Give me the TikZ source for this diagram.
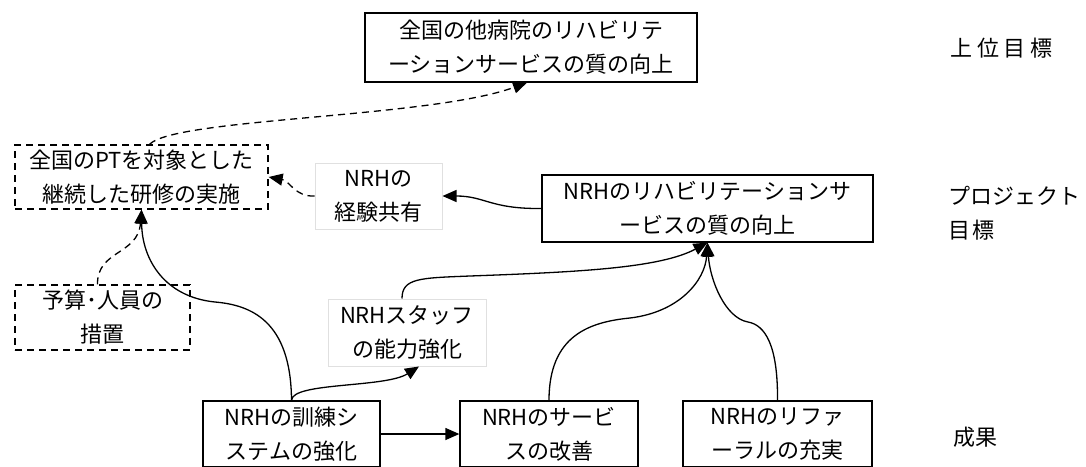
\documentclass[tikz,border=0pt]{standalone}
\usepackage{fontspec}
\setmainfont{Noto Sans CJK JP}
\usetikzlibrary{arrows.meta}
\begin{document}
\begin{tikzpicture}[x=1pt,y=-1pt,
  box/.style={draw, line width=1.3pt, align=center, inner sep=0pt, font=\fontsize{22}{34}\selectfont},
  dbox/.style={box, dash pattern=on 7pt off 5pt},
  gbox/.style={box, draw=black!12, line width=1pt},
  lbl/.style={anchor=west, align=left, inner sep=0pt, font=\fontsize{22}{34}\selectfont},
  arr/.style={line width=1.3pt, -{Triangle[length=14pt,width=12pt]}},
  darr/.style={arr, dash pattern=on 7pt off 5pt}]
\useasboundingbox (0,0) rectangle (1086,466);
\node[box, minimum width=332pt, minimum height=69pt] (goal) at (531,47.5) {全国の他病院のリハビリテ\\ーションサービスの質の向上};
\node[dbox, minimum width=253pt, minimum height=64pt] (pt) at (141.5,177) {全国のPTを対象とした\\継続した研修の実施};
\node[gbox, minimum width=127pt, minimum height=66pt] (exp) at (378.5,196) {NRHの\\経験共有};
\node[box, minimum width=331pt, minimum height=67pt] (proj) at (707.5,208.5) {NRHのリハビリテーションサ\\ービスの質の向上};
\node[dbox, minimum width=175pt, minimum height=65pt] (budget) at (102.5,317.5) {予算･人員の\\措置};
\node[gbox, minimum width=158pt, minimum height=67pt] (staff) at (407,332.5) {NRHスタッフ\\の能力強化};
\node[box, minimum width=177pt, minimum height=66pt] (train) at (291.5,434) {NRHの訓練シ\\ステムの強化};
\node[box, minimum width=178pt, minimum height=66pt] (serv) at (549,434) {NRHのサービ\\スの改善};
\node[box, minimum width=189pt, minimum height=66pt] (ref) at (777.5,434) {NRHのリファ\\ーラルの充実};
\node[lbl] (l1) at (950,48) {\addfontfeature{LetterSpace=22}上位目標};
\node[lbl] (l2) at (948,213.5) {プロジェクト\\\addfontfeature{LetterSpace=10}目標};
\node[lbl] (l3) at (953,437) {成果};
\draw[darr] ([xshift=8pt]pt.north) .. controls (175,118) and (430,118) .. ([xshift=-4pt]goal.south);
\draw[darr] (exp.west) .. controls (295,197) and (290,181) .. (pt.east);
\draw[arr] (proj.west) .. controls (490,209) and (485,196) .. (exp.east);
\draw[darr] ([xshift=-5pt]budget.north) .. controls (97,250) and (138,255) .. (pt.south);
\draw[arr] (train.north) .. controls (291,320) and (250,305) .. (215,302) .. controls (165,297) and (142,260) .. (pt.south);
\draw[arr] (train.north) .. controls (292,382) and (385,388) .. ([xshift=12pt]staff.south);
\draw[arr] ([xshift=-5pt]staff.north) .. controls (402,278) and (420,278) .. (470,276) .. controls (580,272) and (660,268) .. (proj.south);
\draw[arr] (serv.north) .. controls (549,335) and (590,322) .. (630,318) .. controls (680,312) and (705,280) .. (proj.south);
\draw[arr] (ref.north) .. controls (778,345) and (765,325) .. (748,322) .. controls (725,318) and (710,280) .. (proj.south);
\draw[arr] (train.east) -- (serv.west);
\end{tikzpicture}
\end{document}
